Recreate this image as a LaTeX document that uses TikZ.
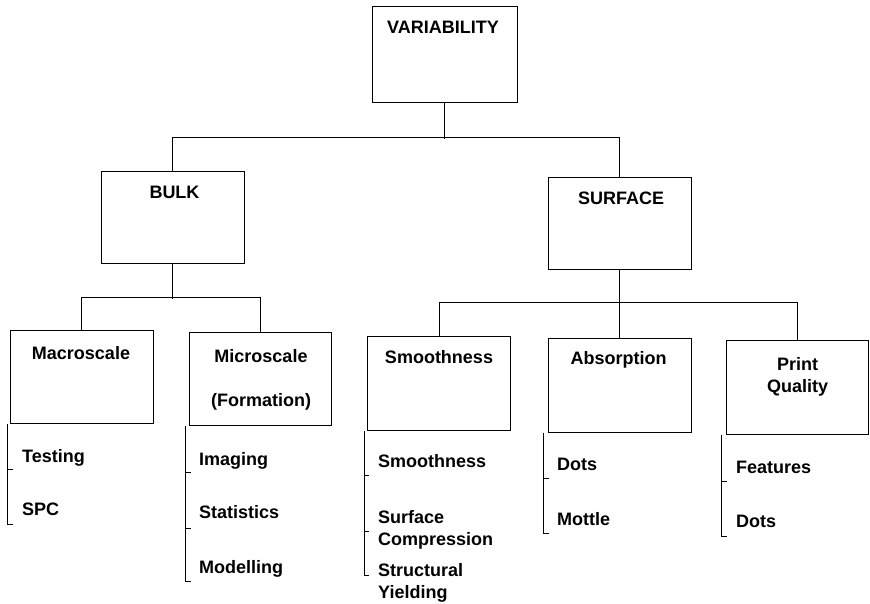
\documentclass[tikz,border=0pt]{standalone}
\usepackage{fontspec}
\setmainfont{Liberation Sans}
\usetikzlibrary{arrows.meta}
\tikzstyle{box} = [rectangle, 
draw=black, 
line width=1pt, 
minimum width=143pt, 
minimum height=93pt, 
inner sep=0pt]
\tikzstyle{title} = [font=\bfseries\fontsize{18}{22}\selectfont, 
align=center, 
anchor=base, 
inner sep=0pt]
\tikzstyle{leaf} = [font=\bfseries\fontsize{18}{22}\selectfont, 
align=left, 
anchor=base west, 
inner sep=0pt]
\tikzstyle{line} = [line width=1pt, draw=black]

\begin{document}
\begin{tikzpicture}[x=1pt, y=-1pt]
        \useasboundingbox (0,0) rectangle (870,603);

        % Boxes
        \node (var) [box, minimum width=145pt, minimum height=96pt] at (444.5,54) {};
        \node (vart) [title] at (443,33) {VARIABILITY};
        \node (bulk) [box, minimum height=92pt] at (172.5,217) {};
        \node (bulkt) [title] at (174.5,198) {BULK};
        \node (surf) [box, minimum height=92pt] at (619.5,223) {};
        \node (surft) [title] at (621,204) {SURFACE};
        \node (macro) [box] at (81.5,376.5) {};
        \node (macrot) [title] at (81,359) {Macroscale};
        \node (micro) [box, minimum width=142pt] at (260,379) {};
        \node (microt) [title] at (261,406) {Microscale\\[22pt](Formation)};
        \node (smooth) [box, minimum height=94pt] at (439,383) {};
        \node (smootht) [title] at (439,363) {Smoothness};
        \node (absorb) [box, minimum height=94pt] at (619.5,385) {};
        \node (absorbt) [title] at (618.5,364) {Absorption};
        \node (print) [box, minimum width=142pt, minimum height=94pt] at (797,387.5) {};
        \node (printt) [title] at (797.5,392) {Print\\Quality};

        % Leaves
        \node (testing) [leaf] at (22,462) {Testing};
        \node (spc) [leaf] at (22,515) {SPC};
        \node (imaging) [leaf] at (199,465) {Imaging};
        \node (stats) [leaf] at (199,518) {Statistics};
        \node (modelling) [leaf] at (199,573) {Modelling};
        \node (smoothl) [leaf] at (378,467) {Smoothness};
        \node (compress) [leaf] at (378,545) {Surface\\Compression};
        \node (yielding) [leaf] at (378,598) {Structural\\Yielding};
        \node (dotsa) [leaf] at (557,470) {Dots};
        \node (mottle) [leaf] at (557,525) {Mottle};
        \node (features) [leaf] at (736,473) {Features};
        \node (dotsp) [leaf] at (736,527) {Dots};

        % Connections
        \draw [line] (var.south) -- ++(0,36);
        \draw [line] (bulk.north) -- ++(0,-33) -| (surf.north);
        \draw [line] (bulk.south) -- ++(0,35);
        \draw [line] (macro.north) -- ++(0,-32) -| (micro.north);
        \draw [line] (surf.south) -- (absorb.north);
        \draw [line] (smooth.north) -- ++(0,-33) -| (print.north);

        % Brackets
        \draw [line] ([xshift=-2pt]macro.south west) -- ++(0,101) -- ++(5,0)
              ([xshift=-2pt]macro.south west) ++(0,46) -- ++(5,0);
        \draw [line] ([xshift=-3pt]micro.south west) -- ++(0,155) -- ++(5,0)
              ([xshift=-3pt]micro.south west) ++(0,46) -- ++(5,0)
              ([xshift=-3pt]micro.south west) ++(0,102) -- ++(5,0);
        \draw [line] ([xshift=-3pt]smooth.south west) -- ++(0,145) -- ++(5,0)
              ([xshift=-3pt]smooth.south west) ++(0,45) -- ++(5,0)
              ([xshift=-3pt]smooth.south west) ++(0,101) -- ++(5,0);
        \draw [line] ([xshift=-4pt]absorb.south west) -- ++(0,101) -- ++(5,0)
              ([xshift=-4pt]absorb.south west) ++(0,46) -- ++(5,0);
        \draw [line] ([xshift=-4pt]print.south west) -- ++(0,101) -- ++(5,0)
              ([xshift=-4pt]print.south west) ++(0,46) -- ++(5,0);

\end{tikzpicture}
\end{document}
